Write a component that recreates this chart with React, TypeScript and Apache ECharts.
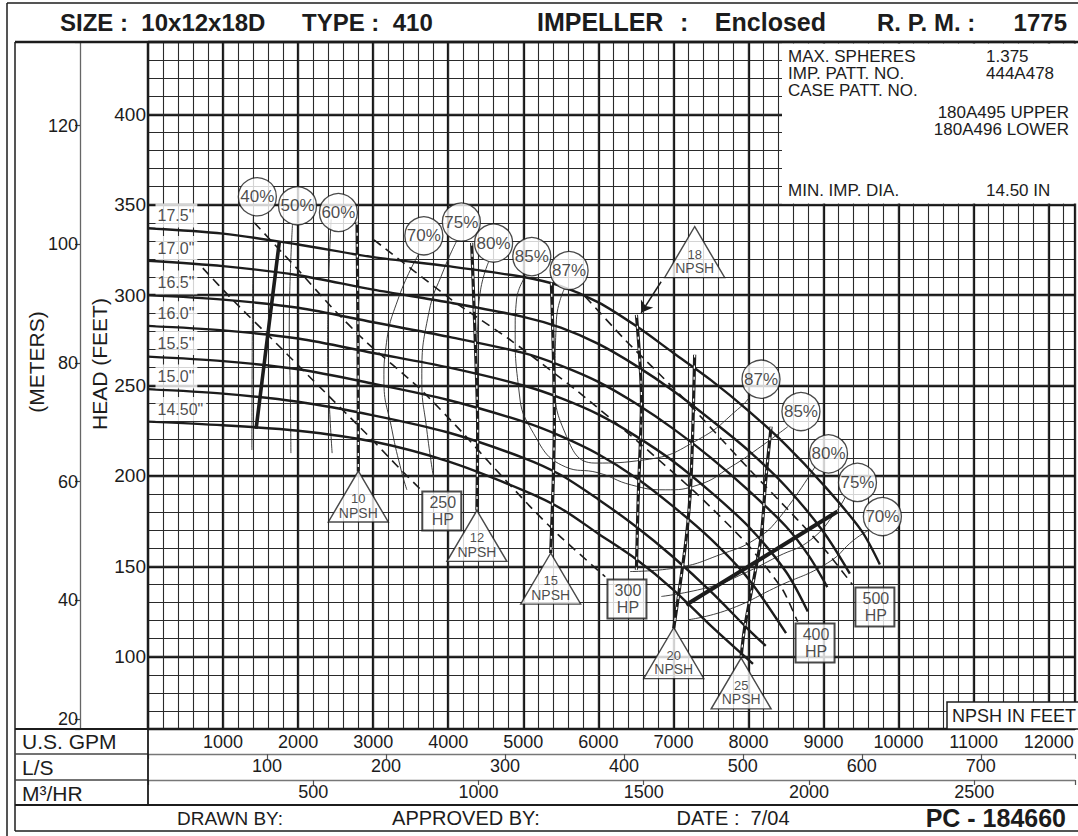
import React, { useEffect, useRef } from "react";
import * as echarts from "echarts";

const FONT = '"Liberation Sans", Arial, Helvetica, sans-serif';
const INK = "#1c1c1c";

// ---- axis ranges (U.S. GPM / feet) ----
const GPM_MIN = 0;
const GPM_MAX = 12350;
const FT_MIN = 60;
const FT_MAX = 440;
const FT_PER_M = 3.28084;
const GPM_PER_LPS = 15.8503;
const GPM_PER_M3H = 4.40287;

const GPM_TICKS = [1000, 2000, 3000, 4000, 5000, 6000, 7000, 8000, 9000, 10000, 11000, 12000];
const FEET_TICKS = [100, 150, 200, 250, 300, 350, 400];
const METER_TICKS = [20, 40, 60, 80, 100, 120];
const LPS_TICKS = [100, 200, 300, 400, 500, 600, 700];
const M3H_TICKS = [500, 1000, 1500, 2000, 2500];

// ---- head-capacity curves [GPM, head ft] ----
const D17_5 = [[0, 337], [1000, 334], [2000, 328], [3000, 321], [4000, 316], [5000, 310], [5500, 305], [6000, 296], [6500, 283], [7000, 268], [7500, 253], [8000, 236], [8500, 217], [9000, 195], [9500, 170], [9750, 151]];
const D17_0 = [[0, 319], [1000, 316], [2000, 311], [3000, 303], [4000, 296], [5000, 288], [5500, 282], [6000, 273], [6500, 261], [7000, 247], [7500, 231], [8000, 214], [8500, 194], [9000, 169], [9350, 146]];
const D16_5 = [[0, 300], [1000, 297.5], [2000, 293], [3000, 285], [4000, 277], [5000, 268], [5500, 261], [6000, 252], [6500, 240], [7000, 226], [7500, 210], [8000, 192], [8500, 172], [8800, 156], [9050, 138.5]];
const D16_0 = [[0, 283], [1000, 280.5], [2000, 276], [3000, 268], [4000, 260], [5000, 250], [5500, 243], [6000, 234], [6500, 222], [7000, 208], [7500, 191], [8000, 172], [8500, 147], [8790, 125]];
const D15_5 = [[0, 266], [1000, 263.5], [2000, 259], [3000, 251], [4000, 242], [5000, 230], [5500, 222], [6000, 212], [6500, 199], [7000, 183], [7500, 165], [8000, 143], [8500, 113]];
const D15_0 = [[0, 248], [1000, 245.5], [2000, 241], [3000, 233.5], [4000, 224], [5000, 210], [5500, 200.5], [6000, 187], [6500, 172], [7000, 155], [7500, 136], [8000, 115], [8230, 106]];
const D14_5 = [[0, 230], [1000, 228], [2000, 225], [3000, 219], [4000, 208], [5000, 192], [5500, 182], [6000, 168], [6500, 154], [7000, 137], [7500, 117], [8060, 96]];

// diameter tags [text, GPM, ft]
const DIA_TAGS: [string, number, number][] = [
  ['17.5"', 80, 344], ['17.0"', 80, 326], ['16.5"', 80, 307], ['16.0"', 80, 290],
  ['15.5"', 80, 273.5], ['15.0"', 80, 255], ['14.50"', 80, 237],
];

// ---- iso-efficiency lines [GPM, ft] ----
const EFF40 = [[1404, 343.8], [1390, 280.7], [1384, 214.3]];
const EFF50 = [[1926, 339.8], [1882, 280.7], [1895, 247.6], [1904, 212.6]];
const EFF60 = [[2440, 341.9], [2400, 297.6], [2393, 269.9], [2413, 242.3], [2453, 212.6]];
const EFF70 = [[3608, 322.8], [3343, 299.1], [3170, 271.4], [3143, 253.2], [3250, 225.5], [3382, 201.7], [3449, 192.3]];
const EFF75 = [[4113, 330.0], [3940, 314.0], [3741, 290.2], [3648, 253.2], [3714, 225.5], [3808, 197.8]];
const EFF80 = [[4538, 318.4], [4431, 302.9], [4391, 280.8], [4378, 253.2], [4391, 225.5], [4405, 197.8]];
const EFF85 = [[5042, 311.2], [4909, 297.3], [4892, 280.8], [4936, 249.4], [5109, 225.5], [5560, 205.0], [6000, 201.7], [6438, 195.0], [6890, 192.3], [7328, 195.0], [7766, 205.0], [8124, 215.0], [8523, 227.2]];
const EFF87 = [[5547, 303.5], [5441, 286.3], [5424, 253.2], [5557, 223.7], [5955, 207.1], [6619, 208.9], [7327, 220.0], [7902, 238.4], [8017, 243.8]];
const EFF80R = [[6423, 147.1], [7015, 149.0], [7679, 157.3], [8080, 164.7], [8389, 175.7], [8894, 205.6]];
const EFF75R = [[6839, 133.3], [7503, 138.8], [7947, 146.2], [8389, 155.4], [8831, 164.7], [9185, 181.3], [9292, 188.5]];
const EFF70R = [[7194, 120.4], [7725, 125.9], [8389, 138.8], [9053, 151.8], [9408, 164.7], [9611, 170.2]];

const EFF_TAGS: [string, number, number][] = [
  ["40%", 1457, 354.4], ["50%", 1992, 349.4], ["60%", 2537, 345.7], ["70%", 3675, 332.8],
  ["75%", 4175, 340.4], ["80%", 4604, 328.8], ["85%", 5113, 321.3], ["87%", 5610, 313.6],
  ["87%", 8167, 253.5], ["85%", 8699, 235.6], ["80%", 9066, 212.2], ["75%", 9452, 196.4], ["70%", 9784, 177.5],
];

// ---- horsepower lines [GPM, ft] ----
const HP250 = [[730, 314.9], [1129, 297.3], [1705, 273.5], [2191, 253.2], [2900, 223.7], [3343, 204.5], [3648, 191.8]];
const HP300 = [[1417, 340.0], [1975, 315.1], [2453, 293.0], [2904, 274.2], [3608, 248.8], [4179, 224.4], [4538, 207.8], [5069, 184.0], [5467, 167.4], [6092, 144.2]];
const HP400 = [[3010, 330.6], [4046, 297.4], [4843, 274.7], [5733, 246.5], [6530, 218.8], [7327, 189.5], [7991, 161.9], [8456, 137.0], [8655, 119.3]];
const HP500 = [[5826, 299.1], [6357, 275.2], [6756, 258.7], [7154, 242.1], [7991, 204.5], [8655, 175.7], [9053, 157.5], [9386, 139.8]];
const HP_TAGS: [string, number, number][] = [["250", 3914, 180.6], ["300", 6381, 131.9], ["400", 8887, 107.6], ["500", 9684, 127.5]];

// ---- NPSH lines [GPM, ft] ----
const NPSH10 = [[2785, 340.5], [2799, 269.8], [2802, 202.4]];
const NPSH12 = [[4312, 328.9], [4378, 253.2], [4392, 225.5], [4382, 180.9]];
const NPSH15 = [[5374, 306.8], [5414, 231.0], [5365, 157.3]];
const NPSH18 = [[6507, 289.1], [6574, 242.1], [6530, 186.8], [6507, 148.1]];
const NPSH20 = [[7283, 267.0], [7234, 197.8], [7168, 164.7], [7004, 115.8]];
const NPSH25 = [[8301, 227.3], [8230, 197.8], [8163, 164.7], [7951, 116.6], [7902, 100.1]];
const NPSH18_ARROW = [[6836, 307.4], [6570, 290.2]];
const NPSH_TAGS: [string, number, number][] = [["10", 2802, 188.6], ["12", 4382, 166.8], ["15", 5365, 143.2], ["18", 7283, 323.8], ["20", 7004, 102], ["25", 7902, 85.2]];

// ---- limit lines ----
const MIN_FLOW = [[1440, 226], [1750, 329.5]];
const END_LINE = [[7171, 128.7], [9186, 180.3]];

const HEAD_CURVES = [D17_5, D17_0, D16_5, D16_0, D15_5, D15_0, D14_5];
const EFF_LINES = [EFF40, EFF50, EFF60, EFF70, EFF75, EFF80, EFF85, EFF87, EFF80R, EFF75R, EFF70R];
const HP_LINES = [HP250, HP300, HP400, HP500];
const NPSH_LINES = [NPSH10, NPSH12, NPSH15, NPSH18, NPSH20, NPSH25];

function pick(list: number[]) {
  return (v: number) => {
    const r = Math.round(v);
    return Math.abs(v - r) < 1e-6 && list.includes(r) ? String(r) : "";
  };
}

function line(data: number[][], lineStyle: any, z: number, smooth: number) {
  return {
    type: "line", data, symbol: "none", showSymbol: false, smooth, lineStyle, z,
    silent: true, xAxisIndex: 0, yAxisIndex: 0, animation: false,
  };
}

function txt(text: string, x: number, y: number, size: number, o: any = {}) {
  return {
    type: "text", x, y, z: 60, silent: true, rotation: o.rot || 0,
    style: {
      text, fontSize: size, fontFamily: FONT, fill: INK,
      fontWeight: o.bold ? "bold" : "normal",
      align: o.align || "left", verticalAlign: "middle",
    },
  };
}
function ln(x1: number, y1: number, x2: number, y2: number, w = 1.5, c = INK) {
  return { type: "line", z: 60, silent: true, shape: { x1, y1, x2, y2 }, style: { stroke: c, lineWidth: w } };
}

function buildOption() {
  const thin = { color: "#2a2a2a", width: 1.1 };
  const thick = { color: "#161616", width: 2.3 };
  const baseX = { type: "value", min: GPM_MIN, max: GPM_MAX, position: "bottom" };
  const baseY = { type: "value", min: FT_MIN, max: FT_MAX, position: "left" };
  return {
    animation: false,
    textStyle: { fontFamily: FONT },
    grid: { left: 148, top: 42, right: 0, bottom: 107, containLabel: false },
    xAxis: [
      {
        ...baseX, interval: 1000,
        axisLine: { show: true, onZero: false, lineStyle: { color: INK, width: 2.2 } },
        axisTick: { show: false },
        axisLabel: { fontSize: 18, color: INK, margin: 4, formatter: pick(GPM_TICKS) },
        splitLine: { show: true, lineStyle: thick },
      },
      {
        ...baseX, interval: 200,
        axisLine: { show: false }, axisTick: { show: false }, axisLabel: { show: false },
        splitLine: { show: true, lineStyle: thin },
      },
      {
        type: "value", min: 0, max: GPM_MAX / GPM_PER_LPS, interval: 100, position: "bottom", offset: 25,
        axisLine: { show: true, onZero: false, lineStyle: { color: "#777", width: 1.3 } },
        axisTick: { show: true, length: 5, lineStyle: { color: "#555", width: 1.2 } },
        axisLabel: { fontSize: 18, color: INK, margin: 3, formatter: pick(LPS_TICKS) },
        splitLine: { show: false },
      },
      {
        type: "value", min: 0, max: GPM_MAX / GPM_PER_M3H, interval: 500, position: "bottom", offset: 51,
        axisLine: { show: true, onZero: false, lineStyle: { color: "#777", width: 1.3 } },
        axisTick: { show: true, length: 5, lineStyle: { color: "#555", width: 1.2 } },
        axisLabel: { fontSize: 18, color: INK, margin: 3, formatter: pick(M3H_TICKS) },
        splitLine: { show: false },
      },
    ],
    yAxis: [
      {
        ...baseY, minInterval: 50, maxInterval: 50,
        axisLine: { show: true, onZero: false, lineStyle: { color: INK, width: 2.2 } },
        axisTick: { show: false },
        axisLabel: { fontSize: 19, color: INK, margin: 2, formatter: pick(FEET_TICKS) },
        splitLine: { show: true, lineStyle: thick },
      },
      {
        ...baseY, interval: 10,
        axisLine: { show: false }, axisTick: { show: false }, axisLabel: { show: false },
        splitLine: { show: true, lineStyle: thin },
      },
      {
        type: "value", min: FT_MIN / FT_PER_M, max: FT_MAX / FT_PER_M, minInterval: 20, maxInterval: 20,
        position: "left", offset: 68,
        axisLine: { show: true, onZero: false, lineStyle: { color: "#666", width: 1.3 } },
        axisTick: { show: true, length: 5, lineStyle: { color: "#444", width: 1.2 } },
        axisLabel: { fontSize: 18, color: INK, margin: 2, formatter: pick(METER_TICKS) },
        splitLine: { show: false },
      },
    ],
    series: [
      ...EFF_LINES.map((d) => line(d, { color: "#2a2a2a", width: 0.9 }, 3, 0.5)),
      ...HP_LINES.map((d) => line(d, { color: INK, width: 1.6, type: [9, 6] }, 3, 0.2)),
      ...HEAD_CURVES.map((d) => line(d, { color: INK, width: 2.4 }, 4, 0.3)),
      ...NPSH_LINES.map((d) => line(d, { color: INK, width: 3.2 }, 4, 0.3)),
      ...NPSH_LINES.map((d) => line(d, { color: "#fff", width: 1.3, type: [3, 8] }, 4, 0.3)),
      line(MIN_FLOW, { color: INK, width: 3.6 }, 5, 0),
      line(END_LINE, { color: INK, width: 4 }, 5, 0),
      {
        type: "lines", coordinateSystem: "cartesian2d", xAxisIndex: 0, yAxisIndex: 0,
        data: [{ coords: NPSH18_ARROW }], symbol: ["none", "arrow"], symbolSize: 11,
        lineStyle: { color: INK, width: 1.5, opacity: 1, curveness: 0 }, z: 5, silent: true,
      },
      {
        type: "scatter", z: 6, silent: true, xAxisIndex: 0, yAxisIndex: 0,
        data: DIA_TAGS.map((t) => ({ name: t[0], value: [t[1], t[2]] })),
        symbol: "circle", symbolSize: 1, itemStyle: { color: "rgba(0,0,0,0)" },
        label: {
          show: true, position: "right", distance: 1, formatter: "{b}", fontSize: 16, color: INK,
          backgroundColor: "#fff", padding: [5, 3, 3, 2],
        },
      },
      {
        type: "scatter", z: 8, silent: true, xAxisIndex: 0, yAxisIndex: 0,
        data: EFF_TAGS.map((t) => ({ name: t[0], value: [t[1], t[2]] })),
        symbol: "circle", symbolSize: 38,
        itemStyle: { color: "#fff", borderColor: INK, borderWidth: 1.3 },
        label: { show: true, position: "inside", formatter: "{b}", fontSize: 17, color: INK },
      },
      {
        type: "scatter", z: 8, silent: true, xAxisIndex: 0, yAxisIndex: 0,
        data: NPSH_TAGS.map((t) => ({ name: t[0], value: [t[1], t[2]] })),
        symbol: "triangle", symbolSize: [60, 51],
        itemStyle: { color: "#fff", borderColor: INK, borderWidth: 1.4 },
        label: {
          show: true, position: "inside", offset: [0, 9],
          formatter: (p: any) => `{n|${p.name}}\n{t|NPSH}`,
          rich: {
            n: { fontSize: 13, lineHeight: 14, color: INK, fontFamily: FONT },
            t: { fontSize: 14, lineHeight: 14, color: INK, fontFamily: FONT },
          },
        },
      },
      {
        type: "scatter", z: 8, silent: true, xAxisIndex: 0, yAxisIndex: 0,
        data: HP_TAGS.map((t) => ({ name: t[0], value: [t[1], t[2]] })),
        symbol: "rect", symbolSize: [39, 39],
        itemStyle: { color: "#fff", borderColor: INK, borderWidth: 2 },
        label: {
          show: true, position: "inside", offset: [1, 0],
          formatter: (p: any) => `{h|${p.name}}\n{h|HP}`,
          rich: { h: { fontSize: 16, lineHeight: 17, color: INK, fontFamily: FONT } },
        },
      },
    ],
    graphic: {
      elements: [
        // frame
        ln(7, 3, 1078, 3, 1.5), ln(7, 3, 7, 836, 1.5),
        ln(15, 42, 15, 831, 1.5), ln(15, 831, 1078, 831, 1.6),
        ln(15, 42, 1078, 42, 2.4),
        ln(15, 729, 148, 729, 2), ln(15, 754, 148, 754, 1.4, "#444"), ln(15, 780, 148, 780, 1.4, "#444"),
        ln(15, 805, 1078, 805, 1.8), ln(148, 729, 148, 805, 1.8),
        // title row
        txt("SIZE :  10x12x18D", 60, 22, 24, { bold: true }),
        txt("TYPE :  410", 302, 22, 24, { bold: true }),
        txt("IMPELLER", 537, 22, 25, { bold: true }),
        txt(":", 680, 22, 25, { bold: true }),
        txt("Enclosed", 826, 22, 25, { bold: true, align: "right" }),
        txt("R. P. M. :", 877, 22, 24, { bold: true }),
        txt("1775", 1067, 22, 24, { bold: true, align: "right" }),
        // axis names
        txt("HEAD (FEET)", 99, 364, 21, { rot: Math.PI / 2, align: "center" }),
        txt("(METERS)", 36, 362, 21, { rot: Math.PI / 2, align: "center" }),
        // info box
        { type: "rect", z: 55, silent: true, shape: { x: 782, y: 43.5, width: 296, height: 160 }, style: { fill: "#fff" } },
        txt("MAX. SPHERES", 788, 56, 17), txt("1.375", 986, 56, 17),
        txt("IMP. PATT. NO.", 788, 73, 17), txt("444A478", 986, 73, 17),
        txt("CASE PATT. NO.", 788, 90, 17),
        txt("180A495 UPPER", 1069, 112, 17, { align: "right" }),
        txt("180A496 LOWER", 1069, 129, 17, { align: "right" }),
        txt("MIN. IMP. DIA.", 788, 190, 17), txt("14.50 IN", 986, 190, 17),
        // NPSH legend box
        { type: "rect", z: 55, silent: true, shape: { x: 947, y: 702, width: 140, height: 27 }, style: { fill: "#fff", stroke: INK, lineWidth: 1.5 } },
        txt("NPSH IN FEET", 952, 716, 18),
        // unit rows
        txt("U.S. GPM", 22, 741, 21), txt("L/S", 22, 767, 21), txt("M³/HR", 22, 793, 21),
        // bottom row
        txt("DRAWN BY:", 230, 818, 19, { align: "center" }),
        txt("APPROVED BY:", 466, 818, 20, { align: "center" }),
        txt("DATE :  7/04", 733, 818, 20, { align: "center" }),
        txt("PC - 184660", 1066, 818, 25, { bold: true, align: "right" }),
      ],
    },
  };
}

export default function App() {
  const ref = useRef<HTMLDivElement>(null);
  useEffect(() => {
    if (!ref.current) return;
    const chart = echarts.init(ref.current, undefined, { renderer: "svg", width: 1078, height: 836 });
    chart.setOption(buildOption() as any);
    return () => chart.dispose();
  }, []);
  return (
    <div
      ref={ref}
      style={{ position: "fixed", left: 0, top: 0, width: 1078, height: 836, background: "#fff" }}
    />
  );
}
